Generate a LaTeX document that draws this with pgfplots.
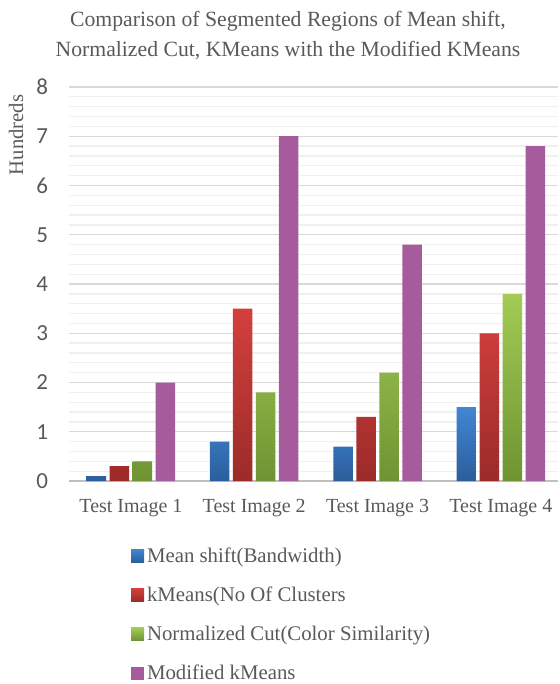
\documentclass[border=0pt]{standalone}
\usepackage{pgfplots}
\pgfplotsset{compat=1.18}
\usepackage{fontspec}
\setmainfont{Liberation Serif}
\newfontfamily\carlito{Carlito}

\definecolor{txt}{HTML}{595959}
\definecolor{gridmaj}{HTML}{D9D9D9}
\definecolor{gridmin}{HTML}{F0F0F0}
\definecolor{axisgray}{HTML}{BFBFBF}
\definecolor{blueT}{HTML}{4286D4}
\definecolor{blueB}{HTML}{2B5E9C}
\definecolor{redT}{HTML}{D2403D}
\definecolor{redB}{HTML}{9C2B29}
\definecolor{greenT}{HTML}{A3CB55}
\definecolor{greenB}{HTML}{6E9332}
\definecolor{purp}{HTML}{A55B9C}

\begin{document}
\begin{tikzpicture}
\begin{axis}[
    at={(0,0)}, anchor=south west,
    scale only axis,
    width=488.7pt, height=394pt,
    ybar=3.5pt, bar width=19.5pt,
    xmin=-0.5, xmax=3.464,
    ymin=0, ymax=8,
    xtick={0,1,2,3},
    xticklabels={Test Image 1,Test Image 2,Test Image 3,Test Image 4},
    ytick={0,1,...,8},
    minor y tick num=4,
    ymajorgrids, yminorgrids,
    major grid style={draw=gridmaj, line width=1.3pt},
    minor grid style={draw=gridmin, line width=1.3pt},
    axis x line*=bottom, axis y line*=left,
    x axis line style={draw=axisgray, line width=2pt, -},
    y axis line style={draw=none},
    tick style={draw=none},
    major tick length=0pt, minor tick length=0pt,
    /pgf/number format/assume math mode=true,
    yticklabel style={font=\carlito\fontsize{23}{23}\selectfont, text=txt,
        anchor=east, inner sep=0pt, xshift=-21pt},
    xticklabel style={font=\fontsize{20}{24}\selectfont, text=txt,
        anchor=base, inner sep=0pt, yshift=-31pt},
    legend style={at={(axis description cs:0.126,-0.1675)}, anchor=north west,
        draw=none, fill=none, inner sep=0pt, column sep=3pt, row sep=19.2pt,
        font=\fontsize{20.8}{25}\selectfont, text=txt,
        nodes={inner sep=0pt, text height=15pt, text depth=5pt, anchor=base west}},
    legend image code/.code={\path[#1] (0pt,0pt) rectangle (13pt,13pt);},
]
\addplot[draw=none, top color=blueT, bottom color=blueB]
    coordinates {(0,0.1) (1,0.8) (2,0.7) (3,1.5)};
\addplot[draw=none, top color=redT, bottom color=redB]
    coordinates {(0,0.3) (1,3.5) (2,1.3) (3,3.0)};
\addplot[draw=none, top color=greenT, bottom color=greenB]
    coordinates {(0,0.4) (1,1.8) (2,2.2) (3,3.8)};
\addplot[draw=none, fill=purp]
    coordinates {(0,2.0) (1,7.0) (2,4.8) (3,6.8)};
\legend{Mean shift(Bandwidth),kMeans(No Of Clusters,Normalized Cut(Color Similarity),Modified kMeans}
\end{axis}
% title and y label
\node[anchor=base, text=txt, font=\fontsize{21.7}{26}\selectfont]
    at (218.7pt,454.5pt) {Comparison of Segmented Regions of Mean shift,};
\node[anchor=base, text=txt, font=\fontsize{21.7}{26}\selectfont]
    at (218.7pt,424.5pt) {Normalized Cut, KMeans with the Modified KMeans};
\node[rotate=90, text=txt, font=\fontsize{20.6}{24}\selectfont]
    at (-53.3pt,346pt) {Hundreds};
\pgfresetboundingbox
\path[use as bounding box] (-69.3pt,-203pt) rectangle (489.7pt,481pt);
\end{tikzpicture}
\end{document}
